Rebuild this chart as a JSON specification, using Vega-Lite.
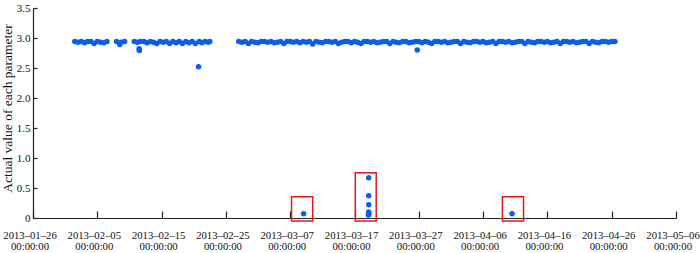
{
  "$schema": "https://vega.github.io/schema/vega-lite/v6.json",
  "width": 643,
  "height": 210,
  "autosize": {"type": "none"},
  "padding": {"left": 33, "top": 8, "right": 24, "bottom": 35},
  "background": "white",
  "config": {
    "view": {"stroke": null},
    "font": "Liberation Serif",
    "axis": {"domainColor": "#222", "tickColor": "#222", "labelColor": "#111", "titleColor": "#111", "grid": false, "labelFont": "Liberation Serif", "titleFont": "Liberation Serif", "titleFontWeight": "normal"}
  },
  "datasets": {
    "pts": [
      {"t":"2013-02-01T12:00","v":2.94},{"t":"2013-02-02T00:00","v":2.93},{"t":"2013-02-02T12:00","v":2.94},{"t":"2013-02-03T00:00","v":2.92},
      {"t":"2013-02-03T12:00","v":2.94},{"t":"2013-02-04T00:00","v":2.94},{"t":"2013-02-04T12:00","v":2.91},{"t":"2013-02-05T00:00","v":2.94},
      {"t":"2013-02-05T12:00","v":2.93},{"t":"2013-02-06T00:00","v":2.92},{"t":"2013-02-06T12:00","v":2.94},
      {"t":"2013-02-08T00:00","v":2.94},{"t":"2013-02-08T12:00","v":2.89},{"t":"2013-02-08T18:00","v":2.93},{"t":"2013-02-09T06:00","v":2.94},
      {"t":"2013-02-10T18:00","v":2.94},{"t":"2013-02-11T06:00","v":2.93},{"t":"2013-02-11T12:00","v":2.82},{"t":"2013-02-11T13:00","v":2.79},
      {"t":"2013-02-11T18:00","v":2.94},{"t":"2013-02-12T06:00","v":2.94},{"t":"2013-02-12T18:00","v":2.92},{"t":"2013-02-13T06:00","v":2.94},
      {"t":"2013-02-13T18:00","v":2.93},{"t":"2013-02-14T06:00","v":2.91},{"t":"2013-02-14T18:00","v":2.94},{"t":"2013-02-15T06:00","v":2.93},
      {"t":"2013-02-15T18:00","v":2.94},{"t":"2013-02-16T06:00","v":2.91},{"t":"2013-02-16T18:00","v":2.94},{"t":"2013-02-17T06:00","v":2.92},
      {"t":"2013-02-17T18:00","v":2.94},{"t":"2013-02-18T06:00","v":2.91},{"t":"2013-02-18T18:00","v":2.94},{"t":"2013-02-19T06:00","v":2.92},
      {"t":"2013-02-19T18:00","v":2.94},{"t":"2013-02-20T06:00","v":2.91},{"t":"2013-02-20T18:00","v":2.52},{"t":"2013-02-20T20:00","v":2.94},
      {"t":"2013-02-21T06:00","v":2.92},{"t":"2013-02-21T18:00","v":2.94},{"t":"2013-02-22T06:00","v":2.93},{"t":"2013-02-22T12:00","v":2.94},
      {"t":"2013-02-27T00:00","v":2.94},{"t":"2013-02-27T12:00","v":2.93},{"t":"2013-02-28T00:00","v":2.94},{"t":"2013-02-28T12:00","v":2.91},
      {"t":"2013-03-01T00:00","v":2.94},{"t":"2013-03-01T12:00","v":2.93},{"t":"2013-03-02T00:00","v":2.92},{"t":"2013-03-02T12:00","v":2.94},
      {"t":"2013-03-03T00:00","v":2.94},{"t":"2013-03-03T12:00","v":2.93},{"t":"2013-03-04T00:00","v":2.94},{"t":"2013-03-04T12:00","v":2.92},
      {"t":"2013-03-05T00:00","v":2.93},{"t":"2013-03-05T12:00","v":2.94},{"t":"2013-03-06T00:00","v":2.91},{"t":"2013-03-06T12:00","v":2.94},
      {"t":"2013-03-07T00:00","v":2.94},{"t":"2013-03-07T12:00","v":2.93},{"t":"2013-03-08T00:00","v":2.94},{"t":"2013-03-08T12:00","v":2.92},
      {"t":"2013-03-09T00:00","v":2.94},{"t":"2013-03-09T12:00","v":2.93},{"t":"2013-03-10T00:00","v":2.94},{"t":"2013-03-10T12:00","v":2.90},
      {"t":"2013-03-11T00:00","v":2.94},{"t":"2013-03-11T12:00","v":2.93},{"t":"2013-03-12T00:00","v":2.92},{"t":"2013-03-12T12:00","v":2.94},
      {"t":"2013-03-13T00:00","v":2.94},{"t":"2013-03-13T12:00","v":2.93},{"t":"2013-03-14T00:00","v":2.94},{"t":"2013-03-14T12:00","v":2.91},
      {"t":"2013-03-15T00:00","v":2.93},{"t":"2013-03-15T12:00","v":2.94},{"t":"2013-03-16T00:00","v":2.94},{"t":"2013-03-16T12:00","v":2.92},
      {"t":"2013-03-17T00:00","v":2.94},{"t":"2013-03-17T12:00","v":2.93},{"t":"2013-03-18T00:00","v":2.91},{"t":"2013-03-18T12:00","v":2.94},
      {"t":"2013-03-19T00:00","v":2.94},{"t":"2013-03-19T12:00","v":2.93},{"t":"2013-03-20T00:00","v":2.94},{"t":"2013-03-20T12:00","v":2.92},
      {"t":"2013-03-21T00:00","v":2.93},{"t":"2013-03-21T12:00","v":2.94},{"t":"2013-03-22T00:00","v":2.94},{"t":"2013-03-22T12:00","v":2.91},
      {"t":"2013-03-23T00:00","v":2.94},{"t":"2013-03-23T12:00","v":2.93},{"t":"2013-03-24T00:00","v":2.92},{"t":"2013-03-24T12:00","v":2.94},
      {"t":"2013-03-25T00:00","v":2.94},{"t":"2013-03-25T12:00","v":2.92},{"t":"2013-03-26T00:00","v":2.93},{"t":"2013-03-26T12:00","v":2.94},
      {"t":"2013-03-26T18:00","v":2.80},{"t":"2013-03-27T00:00","v":2.94},{"t":"2013-03-27T12:00","v":2.92},{"t":"2013-03-28T00:00","v":2.94},
      {"t":"2013-03-28T12:00","v":2.93},{"t":"2013-03-29T00:00","v":2.91},{"t":"2013-03-29T12:00","v":2.94},{"t":"2013-03-30T00:00","v":2.94},
      {"t":"2013-03-30T12:00","v":2.93},{"t":"2013-03-31T00:00","v":2.94},{"t":"2013-03-31T12:00","v":2.92},{"t":"2013-04-01T00:00","v":2.93},
      {"t":"2013-04-01T12:00","v":2.94},{"t":"2013-04-02T00:00","v":2.94},{"t":"2013-04-02T12:00","v":2.91},{"t":"2013-04-03T00:00","v":2.94},
      {"t":"2013-04-03T12:00","v":2.93},{"t":"2013-04-04T00:00","v":2.92},{"t":"2013-04-04T12:00","v":2.94},{"t":"2013-04-05T00:00","v":2.94},
      {"t":"2013-04-05T12:00","v":2.93},{"t":"2013-04-06T00:00","v":2.94},{"t":"2013-04-06T12:00","v":2.92},{"t":"2013-04-07T00:00","v":2.93},
      {"t":"2013-04-07T12:00","v":2.94},{"t":"2013-04-08T00:00","v":2.91},{"t":"2013-04-08T12:00","v":2.94},{"t":"2013-04-09T00:00","v":2.94},
      {"t":"2013-04-09T12:00","v":2.93},{"t":"2013-04-10T00:00","v":2.94},{"t":"2013-04-10T12:00","v":2.92},{"t":"2013-04-11T00:00","v":2.93},
      {"t":"2013-04-11T12:00","v":2.94},{"t":"2013-04-12T00:00","v":2.94},{"t":"2013-04-12T12:00","v":2.91},{"t":"2013-04-13T00:00","v":2.94},
      {"t":"2013-04-13T12:00","v":2.93},{"t":"2013-04-14T00:00","v":2.92},{"t":"2013-04-14T12:00","v":2.94},{"t":"2013-04-15T00:00","v":2.94},
      {"t":"2013-04-15T12:00","v":2.93},{"t":"2013-04-16T00:00","v":2.94},{"t":"2013-04-16T12:00","v":2.92},{"t":"2013-04-17T00:00","v":2.93},
      {"t":"2013-04-17T12:00","v":2.94},{"t":"2013-04-18T00:00","v":2.91},{"t":"2013-04-18T12:00","v":2.94},{"t":"2013-04-19T00:00","v":2.94},
      {"t":"2013-04-19T12:00","v":2.93},{"t":"2013-04-20T00:00","v":2.94},{"t":"2013-04-20T12:00","v":2.92},{"t":"2013-04-21T00:00","v":2.93},
      {"t":"2013-04-21T12:00","v":2.94},{"t":"2013-04-22T00:00","v":2.94},{"t":"2013-04-22T12:00","v":2.91},{"t":"2013-04-23T00:00","v":2.94},
      {"t":"2013-04-23T12:00","v":2.93},{"t":"2013-04-24T00:00","v":2.92},{"t":"2013-04-24T12:00","v":2.94},{"t":"2013-04-25T00:00","v":2.94},
      {"t":"2013-04-25T12:00","v":2.93},{"t":"2013-04-26T00:00","v":2.94},{"t":"2013-04-26T12:00","v":2.94},
      {"t":"2013-03-09T02:00","v":0.07},
      {"t":"2013-03-19T05:00","v":0.67},{"t":"2013-03-19T05:00","v":0.37},{"t":"2013-03-19T05:00","v":0.22},
      {"t":"2013-03-19T05:00","v":0.10},{"t":"2013-03-19T05:00","v":0.08},{"t":"2013-03-19T05:00","v":0.06},{"t":"2013-03-19T04:00","v":0.05},
      {"t":"2013-04-10T12:00","v":0.07}
    ],
    "boxes": [
      {"x1":"2013-03-07T05:00","x2":"2013-03-10T12:00","y1":-0.05,"y2":0.355},
      {"x1":"2013-03-17T03:00","x2":"2013-03-20T09:00","y1":-0.05,"y2":0.755},
      {"x1":"2013-04-09T00:00","x2":"2013-04-12T07:00","y1":-0.05,"y2":0.355}
    ]
  },
  "layer": [
    {
      "data": {"name": "pts"},
      "mark": {"type": "point", "filled": true, "shape": "circle", "size": 30, "opacity": 1, "color": "#0b5cf0", "clip": false},
      "encoding": {
        "x": {
          "field": "t", "type": "temporal",
          "scale": {"domain": [{"year": 2013, "month": 1, "date": 26}, {"year": 2013, "month": 5, "date": 6}]},
          "axis": {
            "title": null,
            "values": [
              {"year": 2013, "month": 1, "date": 26}, {"year": 2013, "month": 2, "date": 5}, {"year": 2013, "month": 2, "date": 15},
              {"year": 2013, "month": 2, "date": 25}, {"year": 2013, "month": 3, "date": 7}, {"year": 2013, "month": 3, "date": 17},
              {"year": 2013, "month": 3, "date": 27}, {"year": 2013, "month": 4, "date": 6}, {"year": 2013, "month": 4, "date": 16},
              {"year": 2013, "month": 4, "date": 26}, {"year": 2013, "month": 5, "date": 6}
            ],
            "tickCount": 20,
            "labelExpr": "[timeFormat(datum.value, '%Y\u2013%m\u2013%d'), '00:00:00']",
            "tickSize": -7,
            "labelPadding": 19,
            "labelOffset": -3.5,
            "labelFontSize": 10.7,
            "labelLineHeight": 11.5,
            "labelBaseline": "top",
            "labelAlign": "center",
            "labelOverlap": false,
            "labelFlush": false,
            "labelBound": false,
            "domainWidth": 1.2,
            "tickWidth": 1.2
          }
        },
        "y": {
          "field": "v", "type": "quantitative",
          "scale": {"domain": [0, 3.5], "nice": false, "zero": false},
          "axis": {
            "title": "Actual value of each parameter",
            "titleFontSize": 13.5,
            "titleY": 100,
            "values": [0, 0.5, 1, 1.5, 2, 2.5, 3, 3.5],
            "tickCount": 10,
            "labelExpr": "datum.value == 0 ? '0' : format(datum.value, '.1f')",
            "tickSize": -4,
            "labelPadding": 7,
            "labelFontSize": 11,
            "labelOverlap": false,
            "labelBound": false,
            "titlePadding": 2,
            "domainWidth": 1.2,
            "tickWidth": 1.2
          }
        }
      }
    },
    {
      "data": {"name": "boxes"},
      "mark": {"type": "rect", "fill": null, "fillOpacity": 0, "stroke": "#e5161c", "strokeWidth": 1.5, "clip": false},
      "encoding": {
        "x": {"field": "x1", "type": "temporal"},
        "x2": {"field": "x2"},
        "y": {"field": "y1", "type": "quantitative"},
        "y2": {"field": "y2"}
      }
    }
  ]
}
